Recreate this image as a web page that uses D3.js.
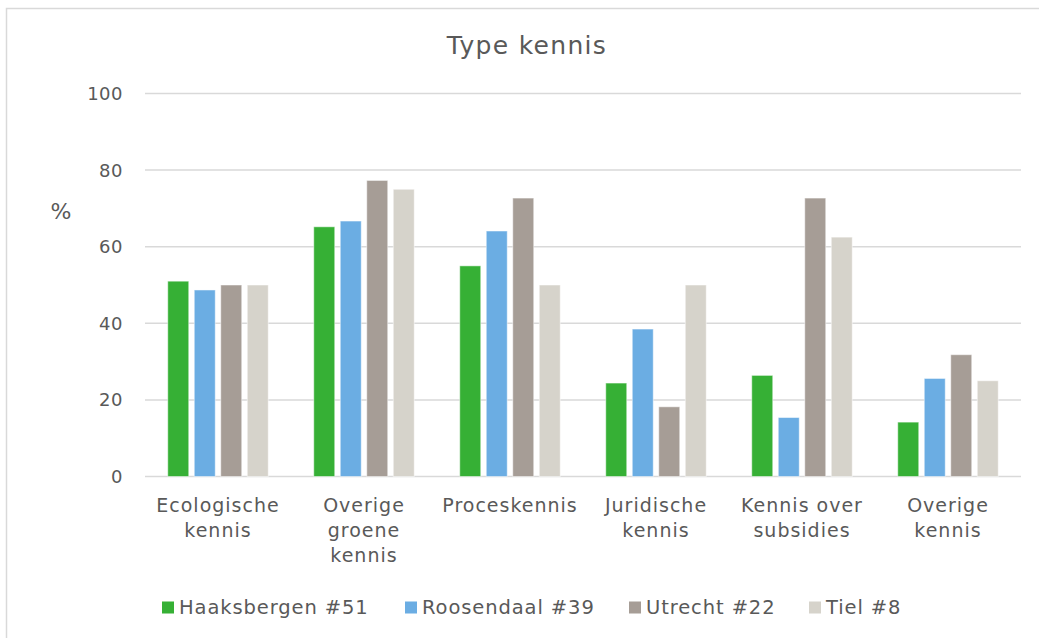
<!DOCTYPE html>
<html><head><meta charset="utf-8">
<script src="https://cdn.jsdelivr.net/npm/d3@7"></script>
<style>body{margin:0;background:#fff;} svg{display:block;}</style>
</head><body><svg id="c" width="1039" height="638"></svg>
<script>
const categories = ["Ecologische|kennis","Overige|groene|kennis","Proceskennis","Juridische|kennis","Kennis over|subsidies","Overige|kennis"];
const seriesNames = ["Haaksbergen #51","Roosendaal #39","Utrecht #22","Tiel #8"];
const haaksbergen = [51.0, 65.2, 55.0, 24.4, 26.4, 14.2];
const roosendaal = [48.7, 66.7, 64.1, 38.5, 15.4, 25.6];
const utrecht = [50.0, 77.3, 72.7, 18.2, 72.7, 31.8];
const tiel = [50.0, 75.0, 50.0, 50.0, 62.5, 25.0];
const yTicks = [0,20,40,60,80,100];
const colors = ["#36b035","#6badE3","#a69d96","#d6d3cb"];
const series = [haaksbergen, roosendaal, utrecht, tiel];

const svg = d3.select("#c");
const font = "'DejaVu Sans', Verdana, sans-serif";
const txt = "#595959";

// frame
svg.append("path").attr("d","M6.5,638 L6.5,8.5 L1039,8.5").attr("fill","none").attr("stroke","#d9d9d9").attr("stroke-width",1.5);

const x0 = d3.scaleBand().domain(d3.range(categories.length)).range([145,1021]);
const y = d3.scaleLinear().domain([0,100]).range([476.5,93.5]);
const barW = 21, barStep = 26.5;

// grid
svg.append("g").selectAll("line").data(yTicks).join("line")
  .attr("x1",145).attr("x2",1021).attr("y1",d=>y(d)).attr("y2",d=>y(d))
  .attr("stroke","#d9d9d9").attr("stroke-width",1.5);

// y tick labels
svg.append("g").selectAll("text").data(yTicks).join("text")
  .attr("x",123).attr("y",d=>y(d)).attr("dy","0.36em").attr("text-anchor","end")
  .attr("font-family",font).attr("font-size",18).attr("letter-spacing",0.5).attr("fill",txt).text(d=>d);

svg.append("text").attr("x",61).attr("y",211).attr("dy","0.36em").attr("text-anchor","middle")
  .attr("font-family",font).attr("font-size",22).attr("fill",txt).text("%");

// bars
series.forEach((s,si)=>{
  svg.append("g").selectAll("rect").data(s).join("rect")
    .attr("x",(d,i)=>x0(i)+x0.bandwidth()/2 - (barStep*1.5) - barW/2 + si*barStep)
    .attr("width",barW)
    .attr("y",d=>y(d)).attr("height",d=>y(0)-y(d))
    .attr("fill",colors[si]).attr("stroke","#ffffff").attr("stroke-opacity",0.5).attr("stroke-width",1);
});

// category labels
categories.forEach((c,i)=>{
  const t = svg.append("text").attr("text-anchor","middle").attr("font-family",font)
    .attr("font-size",19).attr("letter-spacing",1).attr("fill",txt);
  c.split("|").forEach((l,j)=>{
    t.append("tspan").attr("x",x0(i)+x0.bandwidth()/2).attr("y",512+j*25).text(l);
  });
});

// title
svg.append("text").attr("x",527).attr("y",54).attr("text-anchor","middle")
  .attr("font-family",font).attr("font-size",25).attr("letter-spacing",1.3).attr("fill",txt).text("Type kennis");

// legend
const legX = [162,405,629,809];
seriesNames.forEach((n,i)=>{
  svg.append("rect").attr("x",legX[i]).attr("y",601.5).attr("width",12).attr("height",12).attr("fill",colors[i]);
  svg.append("text").attr("x",legX[i]+17).attr("y",614)
    .attr("font-family",font).attr("font-size",19.5).attr("letter-spacing",0.9).attr("fill",txt).text(n);
});
</script></body></html>
